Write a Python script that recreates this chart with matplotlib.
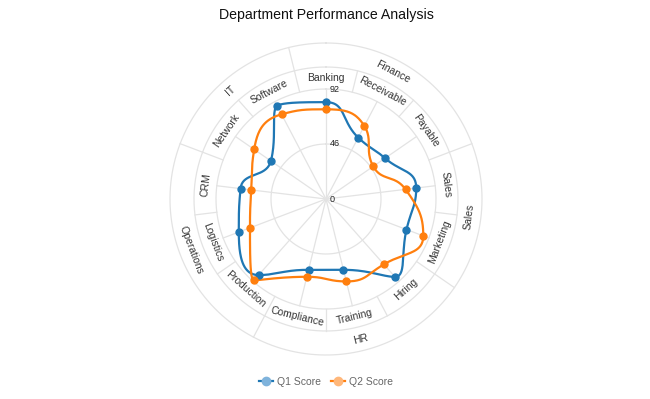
import numpy as np
import matplotlib.pyplot as plt
from matplotlib.lines import Line2D

plt.rcParams['font.family'] = ['Liberation Sans', 'DejaVu Sans']

# data
categories = ['Banking', 'Receivable', 'Payable', 'Sales', 'Marketing', 'Hiring',
              'Training', 'Compliance', 'Production', 'Logistics', 'CRM',
              'Network', 'Software']
groups = ['Finance', 'Sales', 'HR', 'Operations', 'IT']
group_sizes = [3, 2, 3, 3, 2]
q1_scores = [81, 58, 60, 76, 72, 87, 61, 61, 85, 78, 72, 56, 88]
q2_scores = [75, 69, 48, 67, 87, 73, 71, 67, 91, 68, 63, 73, 80]
tick_values = [0, 46, 92]
axis_max = 92

BLUE = '#1f77b4'
ORANGE = '#ff7f0e'
GRID = '#e3e3e3'

# ring radii in data units (inner ring / outer ring of labels)
R1 = axis_max
R2 = axis_max * 132 / 110
R3 = axis_max * 156 / 110


def clamp_box(c, a, b):
    lo = np.minimum(a, b)
    hi = np.maximum(a, b)
    return np.minimum(np.maximum(c, lo), hi)


def smooth_closed(theta, r, smooth=0.5, steps=40):
    # bezier smoothing with control points kept inside each segment's box
    x = r * np.sin(theta)
    y = r * np.cos(theta)
    pts = np.column_stack([x, y])
    n = len(pts)
    cp_in, cp_out = [None] * n, [None] * n
    for i in range(n):
        p, prev, nxt = pts[i], pts[i - 1], pts[(i + 1) % n]
        v = nxt - prev
        len_prev = np.hypot(*(p - prev))
        len_next = np.hypot(*(nxt - p))
        ratio = len_next / (len_next + len_prev)
        c_out = clamp_box(p + v * smooth * ratio, p, nxt)
        v = c_out - p
        c_in = clamp_box(p - v * len_prev / len_next, prev, p)
        v = p - c_in
        c_out = p + v * len_next / len_prev
        cp_in[i], cp_out[i] = c_in, c_out
    t = np.linspace(0, 1, steps)[:, None]
    curve = []
    for i in range(n):
        p0, p3 = pts[i], pts[(i + 1) % n]
        c1, c2 = cp_out[i], cp_in[(i + 1) % n]
        seg = ((1 - t) ** 3) * p0 + 3 * ((1 - t) ** 2) * t * c1 \
            + 3 * (1 - t) * t ** 2 * c2 + t ** 3 * p3
        curve.append(seg)
    curve = np.vstack(curve)
    th = np.unwrap(np.arctan2(curve[:, 0], curve[:, 1]))
    rr = np.hypot(curve[:, 0], curve[:, 1])
    return th, rr


def tangential_rotation(theta):
    bearing = np.degrees(theta)
    return ((90 - bearing) % 180) - 90


fig = plt.figure(figsize=(6.5, 3.99), dpi=100)
cx, cy, rad = 326, 200, 156
ax = fig.add_axes([(cx - rad) / 650, (cy - rad) / 399, 2 * rad / 650, 2 * rad / 399],
                  projection='polar')
ax.set_theta_zero_location('N')
ax.set_theta_direction(-1)
ax.set_ylim(0, R3)
ax.set_axis_off()

n = len(categories)
angles = np.arange(n) * 2 * np.pi / n
half = np.pi / n
circ = np.linspace(0, 2 * np.pi, 400)

# grid circles and spokes
for v in [axis_max / 2, R1, R2, R3]:
    ax.plot(circ, np.full_like(circ, v), color=GRID, lw=0.9, clip_on=False, zorder=1)
for a in angles:
    ax.plot([a, a], [0, R1], color=GRID, lw=0.9, zorder=1)
# inner ring separators
for a in angles:
    ax.plot([a - half, a - half], [R1, R2], color=GRID, lw=0.9, zorder=1)
# outer ring separators
start = 0
for size in group_sizes:
    b = angles[start] - half
    ax.plot([b, b], [R2, R3], color=GRID, lw=0.9, zorder=1, clip_on=False)
    start += size

# labels
for a, name in zip(angles, categories):
    ax.text(a, (R1 + R2) / 2, name, rotation=tangential_rotation(a),
            ha='center', va='center', rotation_mode='anchor',
            fontsize=7.5, color='#333')
start = 0
for name, size in zip(groups, group_sizes):
    a = (angles[start] + angles[start + size - 1]) / 2
    ax.text(a, (R2 + R3) / 2, name, rotation=tangential_rotation(a),
            ha='center', va='center', rotation_mode='anchor',
            fontsize=7.5, color='#333')
    start += size

for v in tick_values:
    ax.annotate(str(v), xy=(0, v), xytext=(2.5, 0), textcoords='offset points',
                ha='left', va='center', fontsize=6.5, color='#222')

# series
for vals, col, lab in [(q1_scores, BLUE, 'Q1 Score'), (q2_scores, ORANGE, 'Q2 Score')]:
    vals = np.array(vals, dtype=float)
    th, rr = smooth_closed(angles, vals)
    ax.plot(th, rr, color=col, lw=1.6, zorder=3)
    ax.plot(angles, vals, 'o', color=col, ms=5, zorder=4)

fig.text(cx / 650, 1 - 15 / 399, 'Department Performance Analysis',
         ha='center', va='center', fontsize=10.2, color='#111')

handles = [
    Line2D([], [], color=BLUE, lw=1.6, marker='o', ms=6, mfc='#7fb3dc', mec='#7fb3dc'),
    Line2D([], [], color=ORANGE, lw=1.6, marker='o', ms=6, mfc='#ffb77a', mec='#ffb77a'),
]
fig.legend(handles, ['Q1 Score', 'Q2 Score'], loc='center',
           bbox_to_anchor=(cx / 650, 1 - 382 / 399), ncol=2, frameon=False,
           fontsize=7.5, labelcolor='#666', handlelength=1.4, handletextpad=0.4,
           columnspacing=0.9)

fig.savefig('out.png', dpi=100)
